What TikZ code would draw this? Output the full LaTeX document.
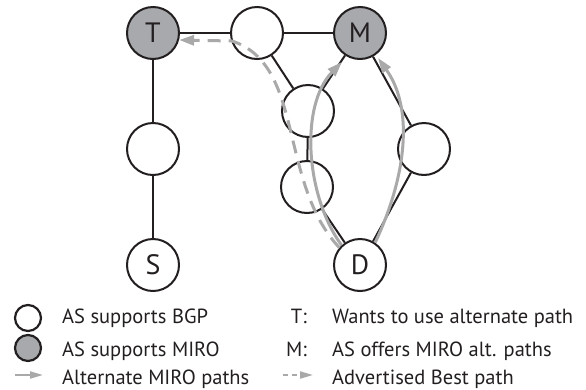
\documentclass[tikz,border=0pt]{standalone}
\usepackage{fontspec}
\setmainfont{PT Sans}
\usetikzlibrary{arrows.meta}
\definecolor{ink}{HTML}{231F20}
\definecolor{mirogray}{HTML}{A7A9AC}
\definecolor{pathgray}{HTML}{A9A9A9}
\tikzset{
  asnode/.style={circle, draw=ink, line width=2pt, minimum size=52pt, inner sep=0pt, fill=white, font=\fontsize{28}{28}\selectfont, text=ink},
  miro/.style={asnode, fill=mirogray},
  link/.style={draw=ink, line width=2pt},
  altpath/.style={draw=pathgray, line width=3pt, -{Triangle[length=15pt,width=10pt]}},
  bestpath/.style={altpath, dash pattern=on 13pt off 8pt},
  legtext/.style={anchor=base west, font=\fontsize{20.5}{20.5}\selectfont, text=ink, inner sep=0pt},
  legkey/.style={anchor=base east, font=\fontsize{20.5}{20.5}\selectfont, text=ink, inner sep=0pt},
  legcirc/.style={circle, draw=ink, line width=2.2pt, minimum size=26pt, inner sep=0pt, fill=white},
  legarrow/.style={draw=pathgray, line width=2pt, -{Triangle[length=13pt,width=7pt]}},
}
\begin{document}
\begin{tikzpicture}[x=1pt,y=-1pt]
\useasboundingbox (0,0) rectangle (586,389);
% nodes
\node[miro] (T) at (153,33) {T};
\node[asnode] (A) at (257,33) {};
\node[miro] (M) at (360,33) {M};
\node[asnode] (B) at (308,111) {};
\node[asnode] (L) at (153,149) {};
\node[asnode] (C) at (307,187) {};
\node[asnode] (R) at (424,149) {};
\node[asnode] (S) at (153,265) {S};
\node[asnode] (D) at (360,265) {D};
% links
\draw[link] (T) -- (A);
\draw[link] (A) -- (M);
\draw[link] (A) -- (B);
\draw[link] (B) -- (M);
\draw[link] (B) -- (C);
\draw[link] (C) -- (D);
\draw[link] (M) -- (R);
\draw[link] (R) -- (D);
\draw[link] (T) -- (L);
\draw[link] (L) -- (S);
% gray paths
\coordinate (m1) at (342,62);
\coordinate (m2) at (378,58);
\coordinate (bend) at (232,41);
\draw[altpath] (D.133) .. controls (305,195) and (300,105) .. (m1);
\draw[altpath] (D.56) .. controls (405,180) and (415,110) .. (m2);
\draw[bestpath] (D.140) .. controls (278,182) and (305,65) .. (bend) -- (T.-15);
% legend
\node[legcirc] (k1) at (28,318) {};
\node[legcirc, fill=mirogray] (k2) at (28,348) {};
\coordinate (a1) at (15,375);
\coordinate (a2) at (43,375);
\draw[legarrow] (a1) -- (a2);
\coordinate (b1) at (283,375);
\coordinate (b2) at (313,375);
\draw[legarrow, dash pattern=on 5pt off 4pt] (b1) -- (b2);
\node[legtext] (t1) at (62,323) {AS supports BGP};
\node[legtext] (t2) at (62,356) {AS supports MIRO};
\node[legtext] (t3) at (62,384) {Alternate MIRO paths};
\node[legkey] (k3) at (307,323) {T:};
\node[legkey] (k4) at (307,356) {M:};
\node[legtext] (t4) at (332,323) {Wants to use alternate path};
\node[legtext] (t5) at (332,356) {AS offers MIRO alt. paths};
\node[legtext] (t6) at (332,384) {Advertised Best path};
\end{tikzpicture}
\end{document}
